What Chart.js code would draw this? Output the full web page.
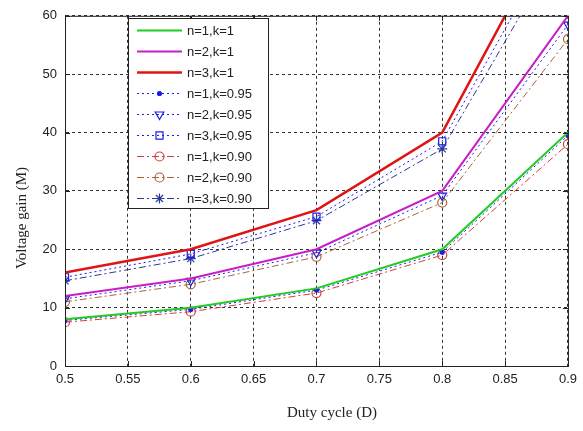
<!DOCTYPE html>
<html>
<head>
<meta charset="utf-8">
<script src="https://cdn.jsdelivr.net/npm/chart.js@4/dist/chart.umd.min.js"></script>
<style>
  html, body { margin: 0; padding: 0; background: #fff; }
  #wrap { width: 583px; height: 431px; position: relative; }
</style>
</head>
<body>
<div id="wrap"><canvas id="gainChart"></canvas></div>
<script>
// Données
const dutyCycle = [0.5, 0.6, 0.7, 0.8, 0.9];
const xTickLabels = ['0.5', '0.55', '0.6', '0.65', '0.7', '0.75', '0.8', '0.85', '0.9'];
const yTickLabels = ['0', '10', '20', '30', '40', '50', '60'];

const seriesLabels = ['n=1,k=1', 'n=2,k=1', 'n=3,k=1',
    'n=1,k=0.95', 'n=2,k=0.95', 'n=3,k=0.95',
    'n=1,k=0.90', 'n=2,k=0.90', 'n=3,k=0.90'];

const gainN1K100 = [8, 10, 13.3, 20, 40];
const gainN2K100 = [12, 15, 20, 30, 60];
const gainN3K100 = [16, 20, 26.7, 40, 80];
const gainN1K095 = [7.8, 9.7, 13, 19.5, 39.5];
const gainN2K095 = [11.5, 14.6, 19.4, 29.2, 58.5];
const gainN3K095 = [15.2, 19.2, 25.6, 38.5, 77];
const gainN1K090 = [7.5, 9.3, 12.5, 19, 38];
const gainN2K090 = [11, 14, 18.7, 28, 56];
const gainN3K090 = [14.6, 18.4, 24.9, 37.2, 74];

const seriesValues = [gainN1K100, gainN2K100, gainN3K100, gainN1K095, gainN2K095, gainN3K095,
    gainN1K090, gainN2K090, gainN3K090];

// styles des courbes
const styles = [
    { color: '#1fcc1f', width: 2, dash: [], point: false },
    { color: '#c81ec8', width: 2, dash: [], point: false },
    { color: '#e01414', width: 2.5, dash: [], point: false },
    { color: '#1c1cf0', width: 1, dash: [2, 3], point: 'circle', radius: 2, fill: true },
    { color: '#1c1cf0', width: 1, dash: [2, 3], point: 'triangle', radius: 5, rotation: 180 },
    { color: '#1c1cf0', width: 1, dash: [2, 3], point: 'rect', radius: 5 },
    { color: '#d0403c', width: 1, dash: [7, 3, 2, 3], point: 'circle', radius: 4.5 },
    { color: '#a8653c', width: 1, dash: [7, 3, 2, 3], point: 'circle', radius: 4.5 },
    { color: '#2c3a98', width: 1, dash: [7, 3, 2, 3], point: 'star', radius: 5 }
];

const datasets = seriesLabels.map((label, i) => {
    const s = styles[i];
    return {
        label: label,
        data: dutyCycle.map((d, j) => ({ x: d, y: seriesValues[i][j] })),
        borderColor: s.color,
        backgroundColor: s.fill ? s.color : 'rgba(0,0,0,0)',
        borderWidth: s.width,
        borderDash: s.dash,
        pointStyle: s.point || 'circle',
        pointRadius: s.point ? s.radius : 0,
        pointRotation: s.rotation || 0,
        pointBorderWidth: 1.2,
        pointBorderColor: s.color,
        pointBackgroundColor: s.fill ? s.color : 'rgba(0,0,0,0)',
        tension: 0,
        fill: false
    };
});

// cadre complet, petites graduations + titres d'axes
const framePlugin = {
    id: 'frame',
    afterDraw(chart) {
        const { ctx, chartArea: a, scales } = chart;
        ctx.save();
        ctx.strokeStyle = '#222';
        ctx.lineWidth = 1;
        ctx.setLineDash([]);
        ctx.strokeRect(a.left + 0.5, a.top + 0.5, a.right - a.left, a.bottom - a.top);

        // graduations vers l'intérieur (style Matlab)
        ctx.beginPath();
        scales.x.ticks.forEach(t => {
            const px = Math.round(scales.x.getPixelForValue(t.value)) + 0.5;
            ctx.moveTo(px, a.bottom); ctx.lineTo(px, a.bottom - 5);
            ctx.moveTo(px, a.top); ctx.lineTo(px, a.top + 5);
        });
        scales.y.ticks.forEach(t => {
            const py = Math.round(scales.y.getPixelForValue(t.value)) + 0.5;
            ctx.moveTo(a.left, py); ctx.lineTo(a.left + 5, py);
            ctx.moveTo(a.right, py); ctx.lineTo(a.right - 5, py);
        });
        ctx.stroke();

        ctx.fillStyle = '#222';
        ctx.font = '15px "Liberation Serif", "Times New Roman", serif';
        ctx.textAlign = 'center';
        ctx.textBaseline = 'middle';
        ctx.fillText('Duty cycle (D)', 332, 413);
        ctx.translate(22, 218);
        ctx.rotate(-Math.PI / 2);
        ctx.fillText('Voltage gain (M)', 0, 0);
        ctx.restore();
    }
};

// légende dans le graphique, façon Matlab
const legendPlugin = {
    id: 'boxLegend',
    afterDraw(chart) {
        const { ctx } = chart;
        const left = 128, top = 18, right = 268, bottom = 208;
        ctx.save();
        ctx.fillStyle = '#fff';
        ctx.fillRect(left, top, right - left, bottom - top);
        ctx.strokeStyle = '#222';
        ctx.lineWidth = 1;
        ctx.setLineDash([]);
        ctx.strokeRect(left + 0.5, top + 0.5, right - left, bottom - top);

        chart.data.datasets.forEach((ds, i) => {
            const y = 30 + i * 21;
            ctx.strokeStyle = ds.borderColor;
            ctx.lineWidth = ds.borderWidth;
            ctx.setLineDash(ds.borderDash);
            ctx.beginPath();
            ctx.moveTo(137, y + 0.5);
            ctx.lineTo(182, y + 0.5);
            ctx.stroke();
            if (ds.pointRadius > 0) {
                ctx.setLineDash([]);
                ctx.lineWidth = 1.2;
                ctx.strokeStyle = ds.pointBorderColor;
                ctx.fillStyle = ds.pointBackgroundColor;
                Chart.helpers.drawPoint(ctx, {
                    pointStyle: ds.pointStyle,
                    radius: ds.pointRadius,
                    rotation: ds.pointRotation,
                    borderWidth: 1.2
                }, 159.5, y + 0.5);
            }
            ctx.fillStyle = '#222';
            ctx.font = '13px "Liberation Sans", Arial, sans-serif';
            ctx.textAlign = 'left';
            ctx.textBaseline = 'middle';
            ctx.fillText(ds.label, 187, y + 1);
        });
        ctx.restore();
    }
};

const gridStyle = {
    color: '#333',
    lineWidth: 1,
    drawTicks: false
};

new Chart(document.getElementById('gainChart'), {
    type: 'line',
    data: { datasets: datasets },
    options: {
        responsive: true,
        maintainAspectRatio: false,
        animation: false,
        layout: { padding: { top: 6, right: 10, left: 0, bottom: 0 } },
        plugins: {
            legend: { display: false },
            tooltip: { enabled: false }
        },
        scales: {
            x: {
                type: 'linear',
                min: 0.5,
                max: 0.9,
                afterFit(s) { s.height = 65; },
                afterBuildTicks(s) {
                    s.ticks = xTickLabels.map(t => ({ value: parseFloat(t) }));
                },
                ticks: {
                    padding: 6,
                    color: '#222',
                    font: { size: 13, family: '"Liberation Sans", Arial, sans-serif' },
                    maxRotation: 0,
                    callback: (v, idx) => xTickLabels[idx]
                },
                grid: gridStyle,
                border: { display: true, color: '#222', dash: [3, 3] }
            },
            y: {
                min: 0,
                max: 60,
                afterFit(s) { s.width = 65; },
                afterBuildTicks(s) {
                    s.ticks = yTickLabels.map(t => ({ value: parseFloat(t) }));
                },
                ticks: {
                    padding: 8,
                    color: '#222',
                    font: { size: 13, family: '"Liberation Sans", Arial, sans-serif' },
                    callback: (v, idx) => yTickLabels[idx]
                },
                grid: gridStyle,
                border: { display: true, color: '#222', dash: [3, 3] }
            }
        }
    },
    plugins: [framePlugin, legendPlugin]
});
</script>
</body>
</html>
